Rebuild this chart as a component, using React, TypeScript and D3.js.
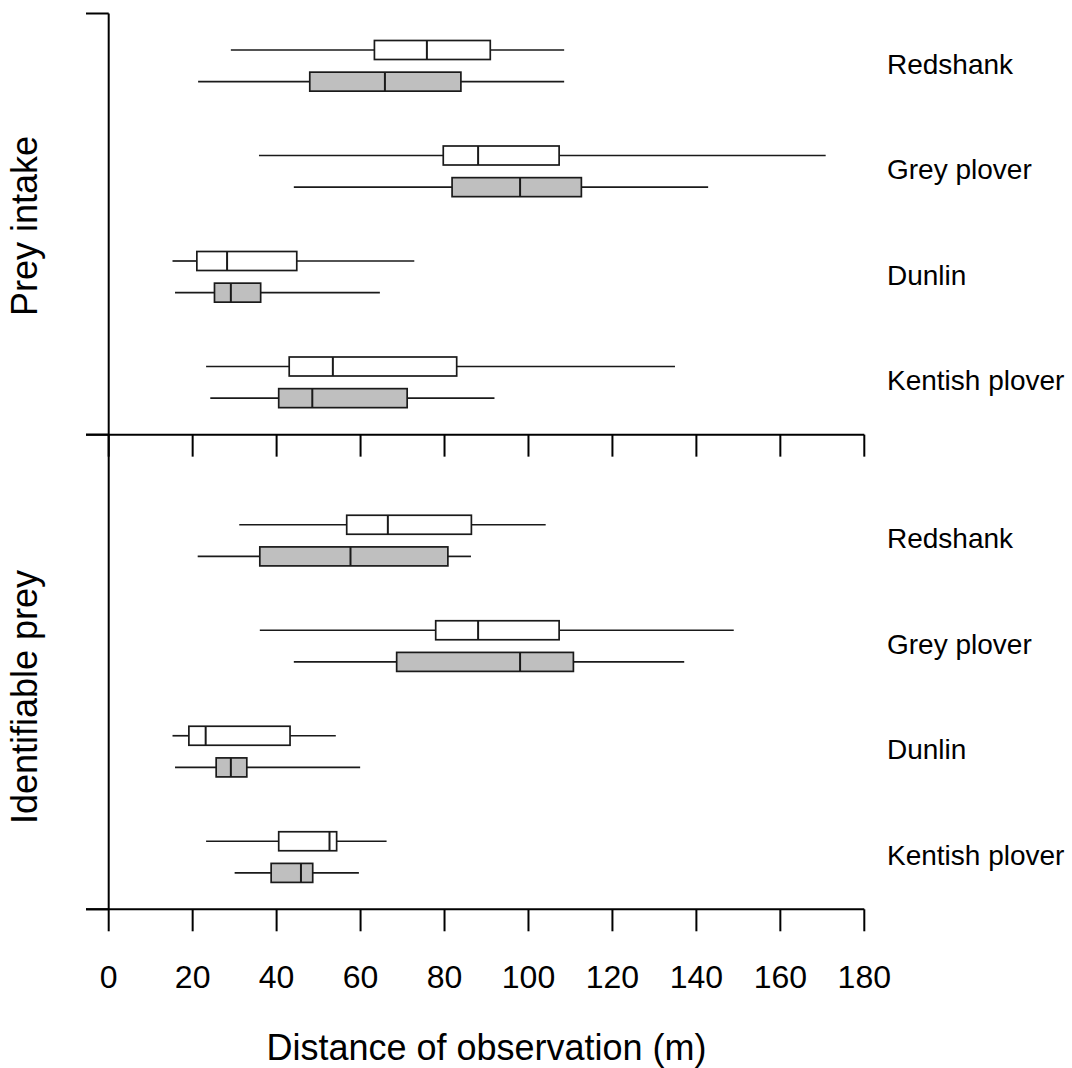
import * as d3 from "d3";

// species, top to bottom in each panel
const species = ["Redshank", "Grey plover", "Dunlin", "Kentish plover"];
const panelTitles = ["Prey intake", "Identifiable prey"];

// [min, q1, median, q3, max] in metres
const intakeWhite = [
  [29.1, 63.3, 75.8, 90.9, 108.5],
  [35.8, 79.7, 88.0, 107.3, 170.8],
  [15.2, 21.0, 28.2, 44.8, 72.8],
  [23.2, 43.0, 53.4, 82.9, 134.9],
];
const intakeGrey = [
  [21.3, 47.9, 65.8, 83.9, 108.5],
  [44.1, 81.8, 98.0, 112.6, 142.8],
  [15.8, 25.2, 29.1, 36.2, 64.6],
  [24.2, 40.5, 48.5, 71.1, 91.9],
];
const identWhite = [
  [31.1, 56.7, 66.5, 86.4, 104.1],
  [36.0, 77.9, 88.0, 107.3, 148.9],
  [15.2, 19.1, 23.1, 43.2, 54.1],
  [23.2, 40.5, 52.6, 54.3, 66.2],
];
const identGrey = [
  [21.2, 36.0, 57.6, 80.8, 86.3],
  [44.1, 68.6, 98.0, 110.7, 137.1],
  [15.8, 25.6, 29.1, 32.9, 59.9],
  [30.0, 38.7, 45.8, 48.6, 59.6],
];

const xTicks = [0, 20, 40, 60, 80, 100, 120, 140, 160, 180];
// row positions of the panel limits (left axis ticks)
const panelBreaks = [-0.346, 3.646, 8.145];
const panelStart = [0, 4.5];

const W = 1072;
const H = 1068;
const FONT = "'Liberation Sans', Arial, Helvetica, sans-serif";

const x = d3.scaleLinear().domain([0, 180]).range([108.7, 864.3]);
const y = d3.scaleLinear().domain([0, 7.5]).range([50, 841.25]);

const PAIR_GAP = 0.3;
const HALF = 9.5;

const Box = ({ stats, cy, fill }) => {
  const [mn, q1, md, q3, mx] = stats;
  return (
    <g stroke="#1a1a1a" strokeWidth={1.7}>
      <line x1={x(mn)} x2={x(q1)} y1={cy} y2={cy} />
      <line x1={x(q3)} x2={x(mx)} y1={cy} y2={cy} />
      <rect x={x(q1)} y={cy - HALF} width={x(q3) - x(q1)} height={HALF * 2} fill={fill} />
      <line x1={x(md)} x2={x(md)} y1={cy - HALF} y2={cy + HALF} strokeWidth={2} />
    </g>
  );
};

export default function App() {
  const panels = [
    { white: intakeWhite, grey: intakeGrey },
    { white: identWhite, grey: identGrey },
  ];
  const axisYs = panelBreaks.map((b) => y(b));

  return (
    <div style={{ position: "absolute", left: 0, top: 0 }}>
      <svg width={W} height={H} style={{ display: "block", background: "#fff" }} fontFamily={FONT}>
        {panels.map((p, pi) =>
          species.map((s, i) => {
            const row = panelStart[pi] + i;
            const cy = y(row);
            return (
              <g key={`${pi}-${s}`}>
                <Box stats={p.white[i]} cy={cy} fill="#ffffff" />
                <Box stats={p.grey[i]} cy={y(row + PAIR_GAP)} fill="#bfbfbf" />
                <text x={887} y={cy + 23.5} fontSize={28} fill="#000">
                  {s}
                </text>
              </g>
            );
          })
        )}

        {/* left axis */}
        <g stroke="#000" strokeWidth={2}>
          <line x1={x(0)} x2={x(0)} y1={axisYs[0]} y2={axisYs[2]} />
          {axisYs.map((yy, k) => (
            <line key={k} x1={86} x2={x(0)} y1={yy} y2={yy} />
          ))}
        </g>

        {/* horizontal axes: between panels and at the bottom */}
        {[axisYs[1], axisYs[2]].map((yy, k) => (
          <g key={k} stroke="#000" strokeWidth={2}>
            <line x1={86} x2={x(180)} y1={yy} y2={yy} />
            {xTicks.map((t) => (
              <line key={t} x1={x(t)} x2={x(t)} y1={yy} y2={yy + 22} />
            ))}
          </g>
        ))}

        {xTicks.map((t) => (
          <text key={t} x={x(t)} y={988} fontSize={32} textAnchor="middle" fill="#000">
            {t}
          </text>
        ))}

        <text x={(x(0) + x(180)) / 2} y={1060} fontSize={36} textAnchor="middle" fill="#000">
          Distance of observation (m)
        </text>

        {panelTitles.map((t, k) => (
          <text
            key={t}
            transform={`translate(37,${k === 0 ? 226 : 697}) rotate(-90)`}
            fontSize={36}
            textAnchor="middle"
            fill="#000"
          >
            {t}
          </text>
        ))}
      </svg>
    </div>
  );
}
